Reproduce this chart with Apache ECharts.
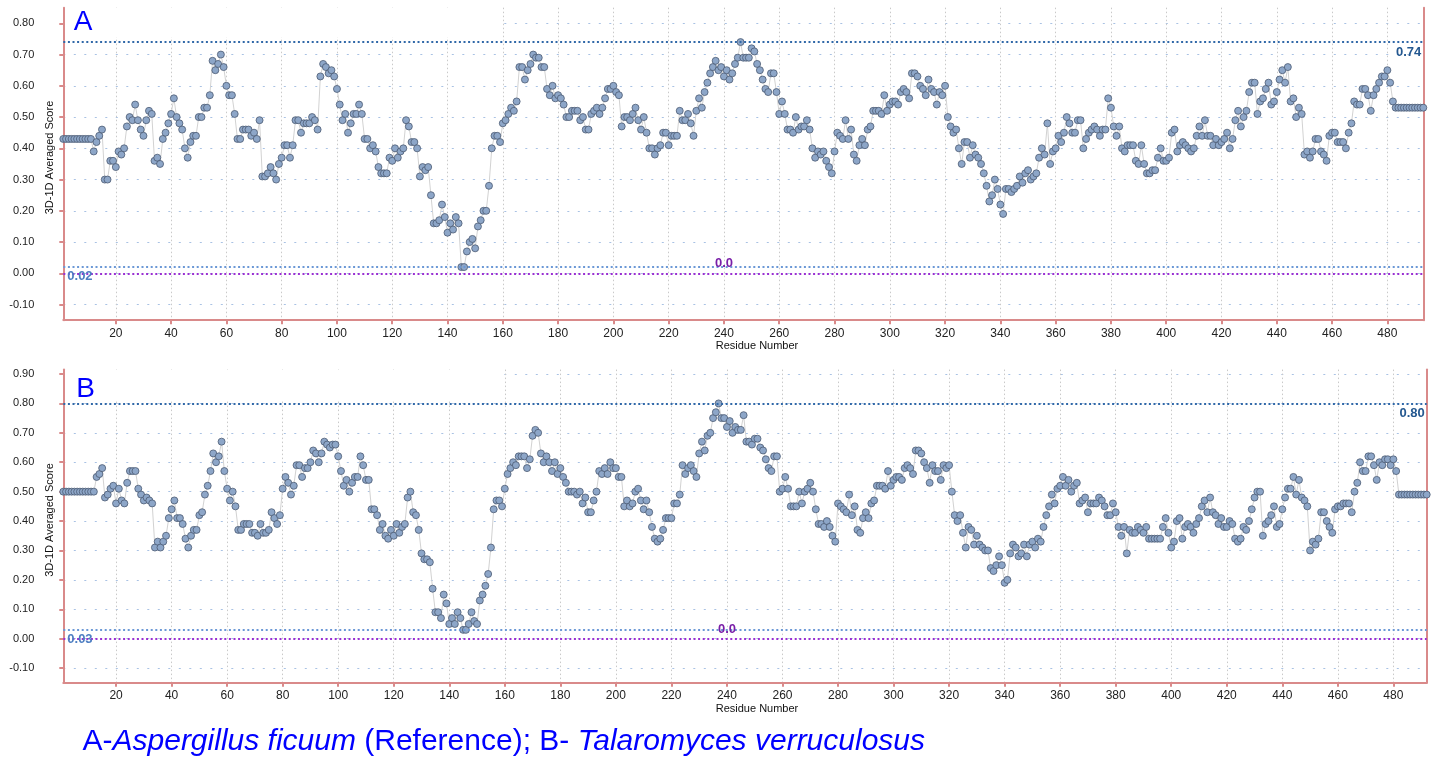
<!DOCTYPE html>
<html>
<head>
<meta charset="utf-8">
<script src="https://cdn.jsdelivr.net/npm/echarts@6/dist/echarts.min.js"></script>
<style>
  html, body { margin: 0; padding: 0; background: #ffffff; }
  #chart { width: 1432px; height: 759px; }
</style>
</head>
<body>
<div id="chart"></div>
<script>
// 3D-1D averaged score per residue, structure A (Aspergillus ficuum, reference)
const scoreA = [
  0.43,0.43,0.43,0.43,0.43,0.43,0.43,0.43,0.43,0.43,
  0.43,0.39,0.42,0.44,0.46,0.30,0.30,0.36,0.36,0.34,
  0.39,0.38,0.40,0.47,0.50,0.49,0.54,0.49,0.46,0.44,
  0.49,0.52,0.51,0.36,0.37,0.35,0.43,0.45,0.48,0.51,
  0.56,0.50,0.48,0.46,0.40,0.37,0.42,0.44,0.44,0.50,
  0.50,0.53,0.53,0.57,0.68,0.65,0.67,0.70,0.66,0.60,
  0.57,0.57,0.51,0.43,0.43,0.46,0.46,0.46,0.44,0.45,
  0.43,0.49,0.31,0.31,0.32,0.34,0.32,0.30,0.35,0.37,
  0.41,0.41,0.37,0.41,0.49,0.49,0.45,0.48,0.48,0.48,
  0.50,0.49,0.46,0.63,0.67,0.66,0.64,0.65,0.63,0.59,
  0.54,0.49,0.51,0.45,0.48,0.51,0.51,0.54,0.51,0.43,
  0.43,0.40,0.41,0.39,0.34,0.32,0.32,0.32,0.37,0.36,
  0.40,0.37,0.39,0.40,0.49,0.47,0.42,0.42,0.40,0.31,
  0.34,0.33,0.34,0.25,0.16,0.16,0.17,0.22,0.18,0.13,
  0.16,0.14,0.18,0.16,0.02,0.02,0.07,0.10,0.11,0.08,
  0.15,0.17,0.20,0.20,0.28,0.40,0.44,0.44,0.42,0.48,
  0.49,0.51,0.53,0.52,0.55,0.66,0.66,0.62,0.65,0.67,
  0.70,0.69,0.69,0.66,0.66,0.59,0.57,0.60,0.56,0.57,
  0.56,0.54,0.50,0.50,0.52,0.52,0.52,0.49,0.50,0.46,
  0.46,0.51,0.52,0.53,0.51,0.53,0.56,0.59,0.59,0.60,
  0.58,0.57,0.47,0.50,0.50,0.49,0.51,0.53,0.49,0.46,
  0.50,0.45,0.40,0.40,0.38,0.40,0.41,0.45,0.45,0.41,
  0.44,0.44,0.44,0.52,0.49,0.49,0.51,0.48,0.44,0.52,
  0.56,0.53,0.58,0.61,0.64,0.66,0.68,0.65,0.66,0.63,
  0.65,0.62,0.64,0.67,0.69,0.74,0.69,0.69,0.69,0.72,
  0.71,0.67,0.65,0.62,0.59,0.58,0.64,0.64,0.58,0.51,
  0.55,0.51,0.46,0.46,0.45,0.50,0.46,0.47,0.47,0.49,
  0.46,0.40,0.37,0.39,0.38,0.39,0.36,0.34,0.32,0.39,
  0.45,0.44,0.43,0.49,0.43,0.46,0.38,0.36,0.41,0.43,
  0.41,0.46,0.47,0.52,0.52,0.52,0.51,0.57,0.52,0.54,
  0.55,0.55,0.54,0.58,0.59,0.58,0.56,0.64,0.64,0.63,
  0.60,0.59,0.57,0.62,0.59,0.58,0.54,0.58,0.57,0.60,
  0.50,0.47,0.45,0.46,0.40,0.35,0.42,0.42,0.37,0.41,
  0.38,0.37,0.35,0.32,0.28,0.23,0.25,0.30,0.27,0.22,
  0.19,0.27,0.27,0.26,0.27,0.28,0.31,0.29,0.32,0.33,
  0.30,0.31,0.32,0.37,0.40,0.38,0.48,0.35,0.39,0.40,
  0.44,0.42,0.45,0.50,0.48,0.45,0.45,0.49,0.49,0.40,
  0.43,0.45,0.46,0.47,0.46,0.44,0.46,0.46,0.56,0.53,
  0.47,0.44,0.47,0.40,0.39,0.41,0.41,0.41,0.36,0.35,
  0.41,0.35,0.32,0.32,0.33,0.33,0.37,0.40,0.36,0.36,
  0.37,0.45,0.46,0.39,0.41,0.42,0.41,0.40,0.39,0.40,
  0.44,0.47,0.44,0.49,0.44,0.44,0.41,0.43,0.41,0.42,
  0.43,0.45,0.40,0.43,0.49,0.52,0.47,0.50,0.52,0.58,
  0.61,0.61,0.51,0.55,0.56,0.59,0.61,0.54,0.55,0.58,
  0.62,0.65,0.61,0.66,0.55,0.56,0.50,0.53,0.51,0.38,
  0.39,0.37,0.39,0.43,0.43,0.39,0.38,0.36,0.44,0.45,
  0.45,0.42,0.42,0.42,0.40,0.45,0.48,0.55,0.54,0.54,
  0.59,0.59,0.57,0.52,0.57,0.59,0.61,0.63,0.63,0.65,
  0.61,0.55,0.53,0.53,0.53,0.53,0.53,0.53,0.53,0.53,
  0.53,0.53,0.53
];

// 3D-1D averaged score per residue, structure B (Talaromyces verruculosus)
const scoreB = [
  0.50,0.50,0.50,0.50,0.50,0.50,0.50,0.50,0.50,0.50,
  0.50,0.50,0.55,0.56,0.58,0.48,0.49,0.51,0.52,0.46,
  0.51,0.47,0.46,0.53,0.57,0.57,0.57,0.51,0.49,0.47,
  0.48,0.47,0.46,0.31,0.33,0.31,0.33,0.35,0.41,0.44,
  0.47,0.41,0.41,0.39,0.34,0.31,0.35,0.37,0.37,0.42,
  0.43,0.49,0.52,0.57,0.63,0.60,0.62,0.67,0.57,0.51,
  0.47,0.50,0.45,0.37,0.37,0.39,0.39,0.39,0.36,0.36,
  0.35,0.39,0.36,0.36,0.37,0.43,0.41,0.39,0.42,0.51,
  0.55,0.53,0.49,0.52,0.59,0.59,0.55,0.58,0.58,0.60,
  0.64,0.63,0.60,0.63,0.67,0.66,0.65,0.66,0.66,0.62,
  0.57,0.52,0.54,0.50,0.53,0.55,0.55,0.62,0.59,0.54,
  0.54,0.44,0.44,0.42,0.37,0.39,0.35,0.34,0.37,0.35,
  0.39,0.36,0.38,0.39,0.48,0.50,0.43,0.42,0.37,0.29,
  0.27,0.27,0.26,0.17,0.09,0.09,0.07,0.15,0.12,0.05,
  0.07,0.05,0.09,0.07,0.03,0.03,0.05,0.09,0.06,0.05,
  0.13,0.15,0.18,0.22,0.31,0.44,0.47,0.47,0.45,0.51,
  0.56,0.58,0.60,0.59,0.62,0.62,0.62,0.58,0.61,0.69,
  0.71,0.70,0.63,0.60,0.62,0.60,0.57,0.60,0.56,0.58,
  0.55,0.53,0.50,0.50,0.50,0.49,0.50,0.46,0.48,0.43,
  0.43,0.47,0.50,0.57,0.56,0.58,0.56,0.60,0.58,0.58,
  0.55,0.55,0.45,0.47,0.45,0.46,0.50,0.51,0.47,0.44,
  0.47,0.43,0.38,0.34,0.33,0.34,0.37,0.41,0.41,0.41,
  0.46,0.46,0.49,0.59,0.56,0.58,0.59,0.57,0.55,0.63,
  0.67,0.64,0.69,0.70,0.75,0.77,0.80,0.75,0.75,0.72,
  0.74,0.70,0.72,0.71,0.71,0.76,0.67,0.67,0.66,0.68,
  0.68,0.65,0.64,0.61,0.58,0.57,0.62,0.62,0.50,0.51,
  0.55,0.51,0.45,0.45,0.45,0.50,0.46,0.50,0.51,0.53,
  0.50,0.44,0.39,0.39,0.38,0.40,0.38,0.35,0.33,0.46,
  0.45,0.44,0.43,0.49,0.42,0.45,0.37,0.36,0.41,0.43,
  0.41,0.46,0.47,0.52,0.52,0.52,0.51,0.57,0.52,0.54,
  0.55,0.55,0.54,0.58,0.59,0.58,0.56,0.64,0.64,0.63,
  0.60,0.58,0.53,0.59,0.57,0.57,0.54,0.59,0.58,0.59,
  0.50,0.42,0.40,0.42,0.36,0.31,0.38,0.37,0.32,0.35,
  0.32,0.31,0.30,0.30,0.24,0.23,0.25,0.28,0.25,0.19,
  0.20,0.29,0.32,0.31,0.28,0.29,0.32,0.28,0.32,0.33,
  0.31,0.34,0.33,0.38,0.42,0.45,0.49,0.46,0.51,0.52,
  0.55,0.52,0.54,0.50,0.52,0.53,0.46,0.47,0.48,0.43,
  0.46,0.46,0.46,0.48,0.47,0.45,0.42,0.42,0.46,0.43,
  0.38,0.35,0.38,0.29,0.37,0.36,0.36,0.38,0.37,0.36,
  0.38,0.34,0.34,0.34,0.34,0.34,0.38,0.41,0.36,0.31,
  0.33,0.40,0.41,0.34,0.38,0.39,0.38,0.36,0.39,0.41,
  0.45,0.47,0.43,0.48,0.43,0.42,0.39,0.41,0.38,0.38,
  0.40,0.39,0.34,0.33,0.34,0.38,0.37,0.40,0.44,0.48,
  0.50,0.50,0.35,0.39,0.40,0.42,0.45,0.38,0.39,0.44,
  0.48,0.51,0.51,0.55,0.49,0.54,0.48,0.47,0.45,0.30,
  0.33,0.32,0.34,0.43,0.43,0.40,0.38,0.36,0.44,0.45,
  0.45,0.46,0.46,0.46,0.43,0.50,0.53,0.60,0.57,0.57,
  0.62,0.62,0.59,0.54,0.60,0.59,0.61,0.61,0.59,0.61,
  0.57,0.49,0.49,0.49,0.49,0.49,0.49,0.49,0.49,0.49,
  0.49,0.49
];

// Reference levels drawn as dotted lines: [upper, lower]
const levelsA = [0.74, 0.02];
const levelsB = [0.80, 0.03];
const zeroLevel = 0.0;
const zeroLabelResidue = 240;

// Tick labels
const residueTicks = [20,40,60,80,100,120,140,160,180,200,220,240,260,280,300,320,340,360,380,400,420,440,460,480];
const scoreTicksA = [-0.1, 0, 0.1, 0.2, 0.3, 0.4, 0.5, 0.6, 0.7, 0.8];
const scoreTicksB = [-0.1, 0, 0.1, 0.2, 0.3, 0.4, 0.5, 0.6, 0.7, 0.8, 0.9];

const FONT = '"Liberation Sans", Arial, Helvetica, sans-serif';
const AXIS_RED = '#d98a8a';

const chart = echarts.init(document.getElementById('chart'), null, { renderer: 'canvas' });

function residueAxis(gridIndex, maxResidue) {
  return {
    type: 'value', gridIndex, min: 1, max: maxResidue,
    axisLine: { show: true, onZero: false, lineStyle: { color: AXIS_RED, width: 2 } },
    axisTick: { show: true, customValues: residueTicks, length: 4, lineStyle: { color: AXIS_RED, width: 2 } },
    axisLabel: { customValues: residueTicks, color: '#222', fontSize: 12, fontFamily: FONT, margin: 7 },
    splitLine: { show: true, lineStyle: { color: '#c9c9c9', width: 1, type: [1.5, 2.5] } }
  };
}

function scoreAxis(gridIndex, maxScore, ticks) {
  return {
    type: 'value', gridIndex, min: -0.15, max: maxScore, position: 'left',
    axisLine: { show: true, onZero: false, lineStyle: { color: AXIS_RED, width: 2 } },
    axisTick: { show: true, customValues: ticks, length: 4, lineStyle: { color: AXIS_RED, width: 2 } },
    axisLabel: { customValues: ticks, color: '#222', fontSize: 11, fontFamily: FONT, margin: 29,
                 formatter: v => v.toFixed(2) },
    splitLine: { show: true, lineStyle: { color: '#a9c2e4', width: 1, type: [2, 8.5] } }
  };
}

function borderAxis(gridIndex, maxScore) {
  return {
    type: 'value', gridIndex, min: -0.15, max: maxScore, position: 'right',
    axisLine: { show: true, onZero: false, lineStyle: { color: AXIS_RED, width: 2 } },
    axisTick: { show: false }, axisLabel: { show: false }, splitLine: { show: false }
  };
}

function levelLines(levels) {
  return {
    silent: true, symbol: 'none', animation: false,
    data: [
      { yAxis: levels[0],
        lineStyle: { color: '#3068a8', width: 2, type: [2, 2.6] },
        label: { show: true, position: 'insideEndBottom', formatter: levels[0].toFixed(2),
                 color: '#245890', fontWeight: 'bold', fontSize: 13, fontFamily: FONT, distance: [2, 4] } },
      { yAxis: levels[1],
        lineStyle: { color: '#6b98d6', width: 2, type: [2, 2.6] },
        label: { show: true, position: 'insideStartBottom', formatter: levels[1].toFixed(2),
                 color: '#4d7ec2', fontWeight: 'bold', fontSize: 13, fontFamily: FONT, distance: [4, 3] } },
      { yAxis: zeroLevel,
        lineStyle: { color: '#9a2fd2', width: 2, type: [2, 2.6] },
        label: { show: false } }
    ]
  };
}

function zeroMark() {
  return {
    silent: true, animation: false,
    symbol: 'circle', symbolSize: 0,
    data: [{ coord: [zeroLabelResidue, zeroLevel], value: zeroLevel }],
    label: { show: true, position: 'top', distance: 3, formatter: zeroLevel.toFixed(1),
             color: '#7a1fa8', fontWeight: 'bold', fontSize: 13, fontFamily: FONT }
  };
}

function scoreSeries(values, xIdx, yIdx, levels) {
  return {
    type: 'line', xAxisIndex: xIdx, yAxisIndex: yIdx,
    data: values.map((v, i) => [i + 1, v]),
    symbol: 'circle', symbolSize: 7, showAllSymbol: true,
    lineStyle: { color: '#d2d2d2', width: 1 },
    itemStyle: { color: '#8da6c8', borderColor: '#4b5a72', borderWidth: 0.8 },
    emphasis: { disabled: true },
    markLine: levelLines(levels),
    markPoint: zeroMark(),
    animation: false, z: 3
  };
}

const option = {
  backgroundColor: '#ffffff',
  animation: false,
  grid: [
    { left: 63.3, top: 7.7, width: 1360, height: 312.5 },
    { left: 63.3, top: 369.6, width: 1363.4, height: 313.2 }
  ],
  xAxis: [ residueAxis(0, scoreA.length), residueAxis(1, scoreB.length) ],
  yAxis: [
    scoreAxis(0, 0.85, scoreTicksA), borderAxis(0, 0.85),
    scoreAxis(1, 0.915, scoreTicksB), borderAxis(1, 0.915)
  ],
  series: [
    scoreSeries(scoreA, 0, 0, levelsA),
    scoreSeries(scoreB, 1, 2, levelsB)
  ],
  graphic: [
    // blank header strips behind the panel letters
    { type: 'rect', z: 1, silent: true, shape: { x: 65, y: 8, width: 437, height: 29 }, style: { fill: '#ffffff' } },
    { type: 'rect', z: 1, silent: true, shape: { x: 65, y: 370, width: 437, height: 31 }, style: { fill: '#ffffff' } },
    { type: 'text', z: 10, x: 83, y: 22, style: { text: 'A', fill: '#0000ff', fontSize: 28, fontFamily: FONT, textAlign: 'center', textVerticalAlign: 'middle' } },
    { type: 'text', z: 10, x: 85.5, y: 389.5, style: { text: 'B', fill: '#0000ff', fontSize: 28, fontFamily: FONT, textAlign: 'center', textVerticalAlign: 'middle' } },
    // axis names
    { type: 'text', z: 10, x: 49.5, y: 157.5, rotation: Math.PI / 2, style: { text: '3D-1D Averaged Score', fill: '#111', fontSize: 11, fontFamily: FONT, textAlign: 'center', textVerticalAlign: 'middle' } },
    { type: 'text', z: 10, x: 49.5, y: 520, rotation: Math.PI / 2, style: { text: '3D-1D Averaged Score', fill: '#111', fontSize: 11, fontFamily: FONT, textAlign: 'center', textVerticalAlign: 'middle' } },
    { type: 'text', z: 10, x: 757, y: 346, style: { text: 'Residue Number', fill: '#111', fontSize: 11, fontFamily: FONT, textAlign: 'center', textVerticalAlign: 'middle' } },
    { type: 'text', z: 10, x: 757, y: 709, style: { text: 'Residue Number', fill: '#111', fontSize: 11, fontFamily: FONT, textAlign: 'center', textVerticalAlign: 'middle' } },
    // caption
    { type: 'text', z: 10, x: 82.5, y: 742,
      style: {
        text: '{n|A-}{i|Aspergillus ficuum}{n| (Reference); B- }{i|Talaromyces verruculosus}',
        textVerticalAlign: 'middle', textAlign: 'left',
        rich: {
          n: { fontSize: 30, fontFamily: FONT, fill: '#0000ff', color: '#0000ff' },
          i: { fontSize: 30, fontFamily: FONT, fontStyle: 'italic', fill: '#0000ff', color: '#0000ff' }
        }
      } }
  ]
};

chart.setOption(option);
</script>
</body>
</html>
